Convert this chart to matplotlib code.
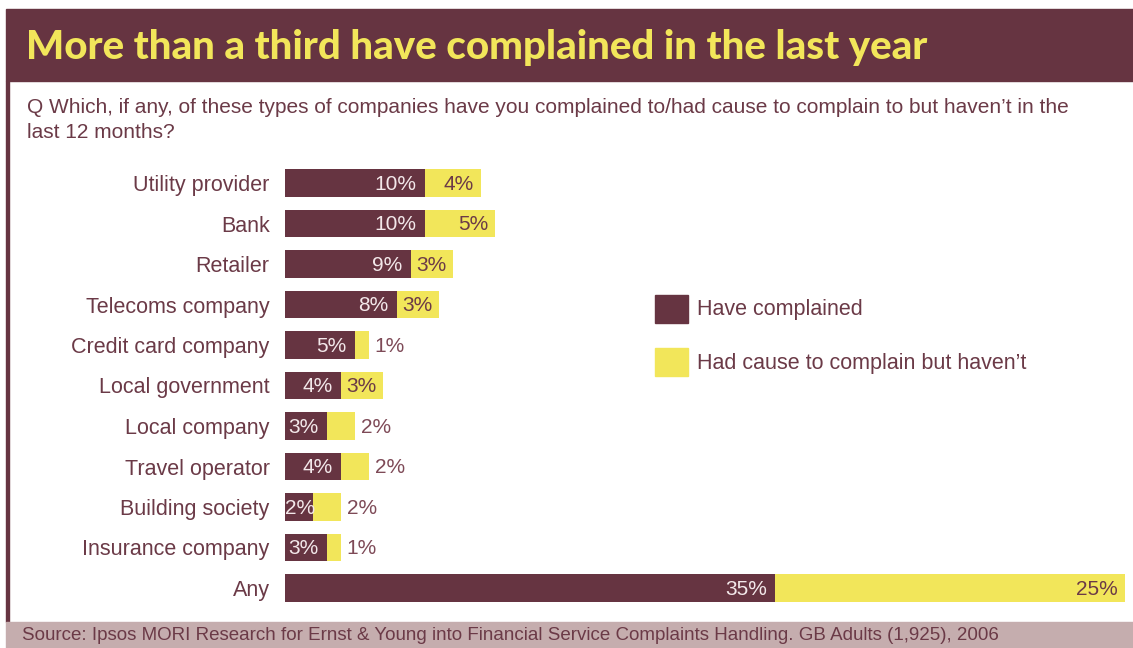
import matplotlib.pyplot as plt
from matplotlib.patches import Rectangle

# data
categories = ['Utility provider', 'Bank', 'Retailer', 'Telecoms company',
              'Credit card company', 'Local government', 'Local company',
              'Travel operator', 'Building society', 'Insurance company', 'Any']
complained = [10, 10, 9, 8, 5, 4, 3, 4, 2, 3, 35]
had_cause = [4, 5, 3, 3, 1, 3, 2, 2, 2, 1, 25]

title = 'More than a third have complained in the last year'
question = ("Q Which, if any, of these types of companies have you complained to/had cause to complain to but haven\u2019t in the\n"
            "last 12 months?")
source = 'Source: Ipsos MORI Research for Ernst & Young into Financial Service Complaints Handling. GB Adults (1,925), 2006'
legend_labels = ['Have complained', 'Had cause to complain but haven\u2019t']

MAROON = '#663441'
YELLOW = '#f2e65a'
TEXT = '#6b3a47'
LIGHT = '#f3e8ea'
FOOTER = '#c5adae'

W, H = 1133, 648
plt.rcParams['font.family'] = ['Liberation Sans', 'DejaVu Sans']

fig = plt.figure(figsize=(W / 100, H / 100), dpi=100)


def fx(px):
    return px / W


def fy(py):
    return 1 - py / H


# header band, left border and footer band
fig.patches.append(Rectangle((fx(6), fy(81)), fx(W - 6), 72 / H,
                             transform=fig.transFigure, color=MAROON, zorder=0))
fig.patches.append(Rectangle((fx(6), fy(622)), fx(3), 541 / H,
                             transform=fig.transFigure, color=MAROON, zorder=0))
fig.patches.append(Rectangle((fx(6), 0), fx(W - 6), 26 / H,
                             transform=fig.transFigure, color=FOOTER, zorder=0))

fig.text(fx(26), fy(47), title, color=YELLOW, fontsize=29, fontweight=900,
         family=['Lato', 'DejaVu Sans'], va='center', ha='left')
fig.text(fx(27), fy(120), question, color=TEXT, fontsize=15, va='center',
         ha='left', linespacing=1.4)
fig.text(fx(22), fy(636), source, color=TEXT, fontsize=13.5, va='center', ha='left')

# bar axes: 14 px per percent, starting at x=285
row_h = 40.5
top = 183 - row_h / 2
ax = fig.add_axes([fx(285), fy(top + row_h * 11), fx(840), row_h * 11 / H])
ax.set_xlim(0, 60)
ax.set_ylim(len(categories) - 0.5, -0.5)
ypos = list(range(len(categories)))

ax.barh(ypos, complained, height=0.67, color=MAROON, linewidth=0)
ax.barh(ypos, had_cause, left=complained, height=0.67, color=YELLOW, linewidth=0)

for y, c, h in zip(ypos, complained, had_cause):
    if c >= 3:
        ax.annotate(f'{c}%', (c, y), xytext=(-6, -1), textcoords='offset points',
                    ha='right', va='center', color=LIGHT, fontsize=15)
    else:
        ax.annotate(f'{c}%', (0, y), xytext=(0, -1), textcoords='offset points',
                    ha='left', va='center', color=LIGHT, fontsize=15)
    if h >= 3:
        ax.annotate(f'{h}%', (c + h, y), xytext=(-5, -1), textcoords='offset points',
                    ha='right', va='center', color=TEXT, fontsize=15)
    else:
        ax.annotate(f'{h}%', (c + h, y), xytext=(4, -1), textcoords='offset points',
                    ha='left', va='center', color='#7e4a57', fontsize=15)

ax.set_yticks(ypos)
ax.set_yticklabels(categories, fontsize=15.5, color=TEXT)
ax.tick_params(axis='y', length=0, pad=11)
ax.set_xticks([])
for s in ax.spines.values():
    s.set_visible(False)
ax.patch.set_alpha(0)

# legend
for i, (lab, col) in enumerate(zip(legend_labels, [MAROON, YELLOW])):
    y0 = 295 + i * 53
    fig.patches.append(Rectangle((fx(655), fy(y0 + 28)), fx(33), 28 / H,
                                 transform=fig.transFigure, color=col))
    fig.text(fx(697), fy(y0 + 15), lab, color=TEXT, fontsize=15.5,
             va='center', ha='left')

fig.savefig('out.png', dpi=100)
